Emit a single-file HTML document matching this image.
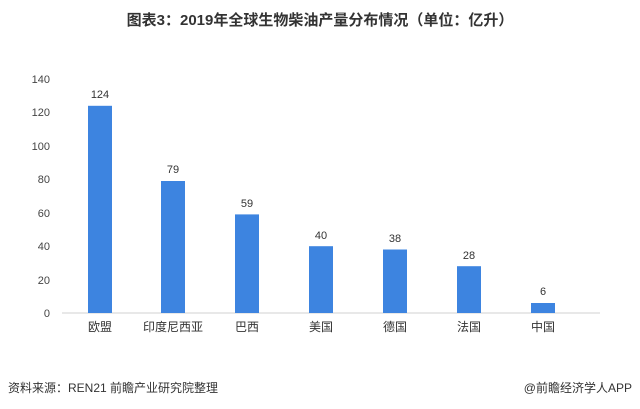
<!DOCTYPE html>
<html><head><meta charset="utf-8"><style>
body{margin:0;width:640px;height:409px;background:#fff;font-family:"Liberation Sans","Noto Sans CJK SC",sans-serif;position:relative;overflow:hidden;color:#333}
.t{position:absolute;white-space:nowrap}
</style></head><body>
<div class="t" style="left:0;width:640px;top:9px;text-align:center;font-size:15px;font-weight:bold;color:#333">图表3：2019年全球生物柴油产量分布情况（单位：亿升）</div>
<svg width="640" height="409" style="position:absolute;left:0;top:0" font-family="Liberation Sans, Noto Sans CJK SC, sans-serif">
<g font-size="11" fill="#444" text-anchor="end">
<text x="50" y="317">0</text><text x="50" y="284">20</text><text x="50" y="250">40</text><text x="50" y="217">60</text><text x="50" y="183">80</text><text x="50" y="150">100</text><text x="50" y="116">120</text><text x="50" y="83">140</text>
</g>
<line x1="62" y1="313" x2="600" y2="313" stroke="#d0d0d0"/>
<g fill="#3d84e0">
<rect x="88" y="105.8" width="24" height="207.2"/>
<rect x="161" y="181" width="24" height="132"/>
<rect x="235" y="214.4" width="24" height="98.6"/>
<rect x="309" y="246.2" width="24" height="66.8"/>
<rect x="383" y="249.5" width="24" height="63.5"/>
<rect x="457" y="266.2" width="24" height="46.8"/>
<rect x="531" y="303" width="24" height="10"/>
</g>
<g font-size="11" fill="#333" text-anchor="middle">
<text x="100" y="98">124</text><text x="173" y="173">79</text><text x="247" y="207">59</text><text x="321" y="239">40</text><text x="395" y="242">38</text><text x="469" y="259">28</text><text x="543" y="295">6</text>
</g>
<g font-size="12" fill="#333" text-anchor="middle">
<text x="100" y="331">欧盟</text><text x="173" y="331">印度尼西亚</text><text x="247" y="331">巴西</text><text x="321" y="331">美国</text><text x="395" y="331">德国</text><text x="469" y="331">法国</text><text x="543" y="331">中国</text>
</g>
<text x="8" y="392" font-size="12" fill="#333">资料来源：REN21 前瞻产业研究院整理</text>
<text x="632" y="392" font-size="12" fill="#333" text-anchor="end">@前瞻经济学人APP</text>
</svg>
</body></html>
